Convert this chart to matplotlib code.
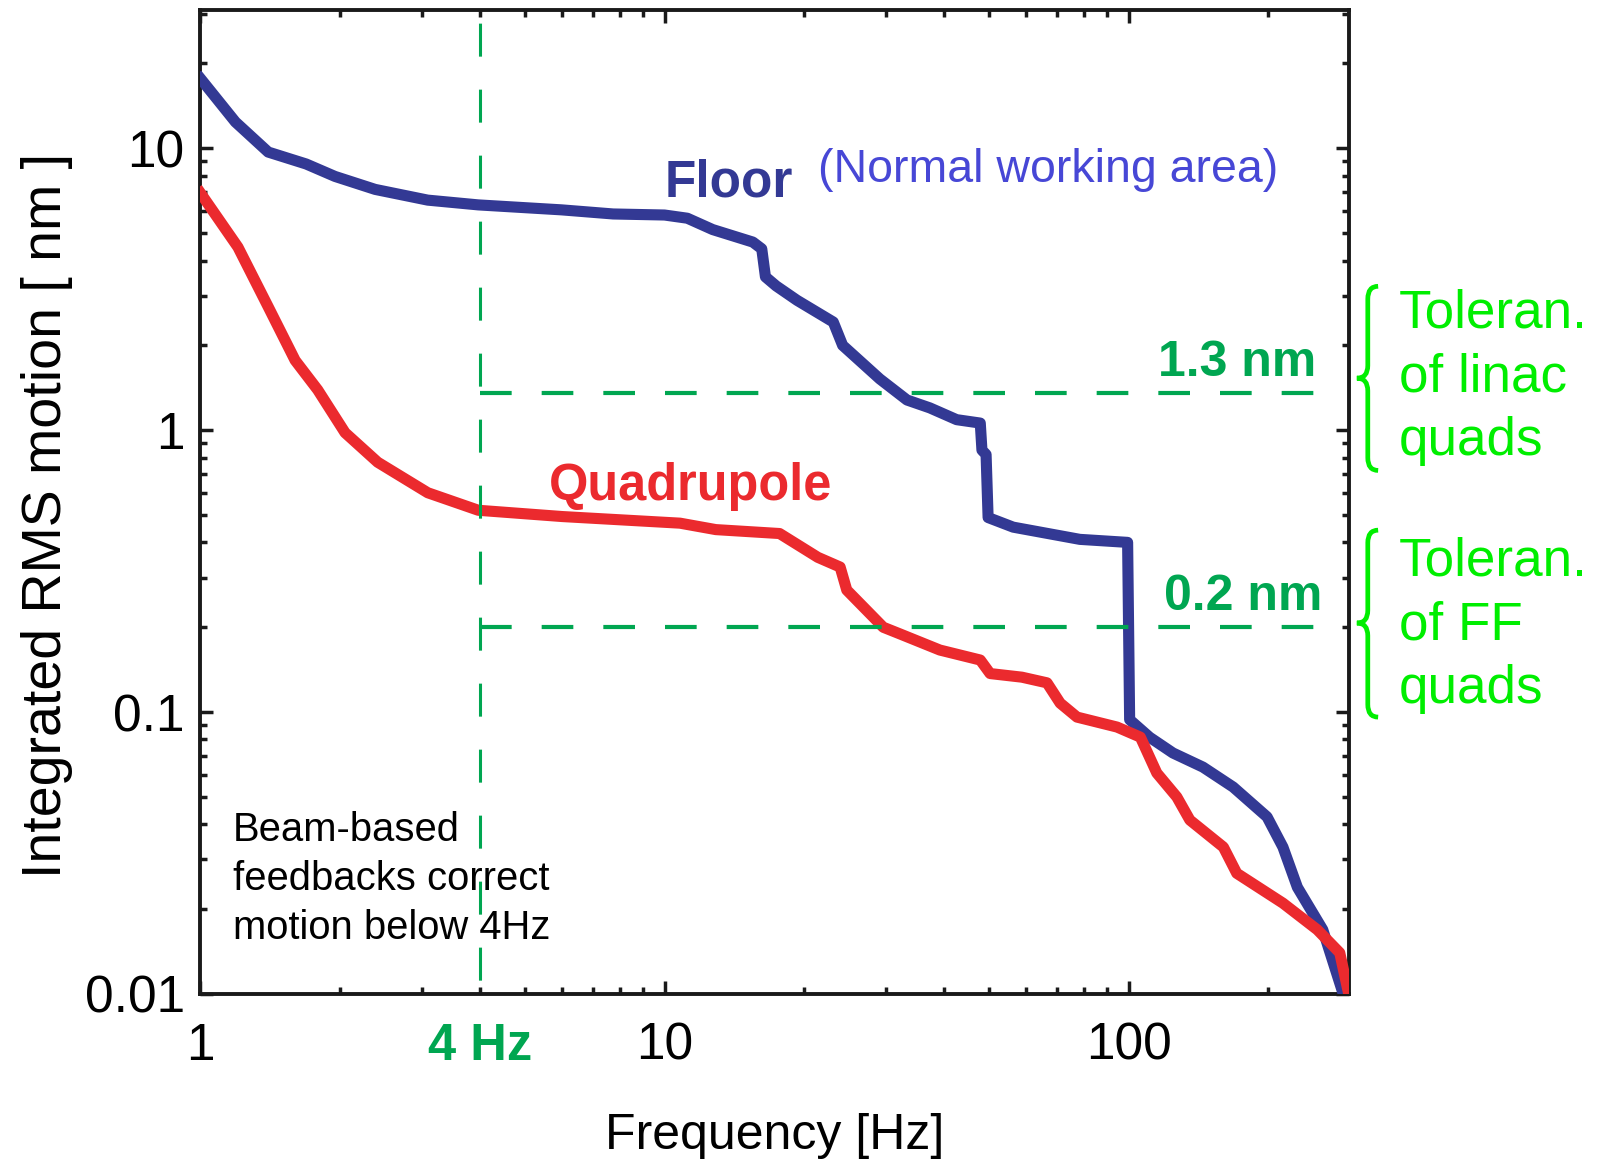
import matplotlib
matplotlib.use('Agg')
import matplotlib.pyplot as plt
import matplotlib.transforms as mtransforms
from matplotlib.path import Path
from matplotlib.patches import PathPatch
import numpy as np

plt.rcParams['font.family'] = ['Liberation Sans', 'DejaVu Sans']

### data

# Floor curve (blue)
floor_freq = [1.0, 1.19, 1.40, 1.69, 1.95, 2.38, 3.09, 3.97, 6.0, 7.75, 10.0,
              11.2, 12.7, 15.5, 16.2, 16.5, 17.4, 19.3, 23.1, 24.2, 29.1, 33.3,
              37.3, 42.6, 47.9, 48.3, 49.3, 49.8, 56.4, 78.5, 99.5, 100.5, 111.0,
              124.6, 144.6, 168.0, 198.7, 215.0, 231.0, 262.0, 290.0]
floor_rms = [17.7, 12.4, 9.7, 8.8, 7.95, 7.15, 6.55, 6.3, 6.05, 5.85, 5.8,
             5.65, 5.15, 4.65, 4.4, 3.5, 3.25, 2.89, 2.42, 2.0, 1.52, 1.28,
             1.2, 1.09, 1.06, 0.85, 0.82, 0.49, 0.453, 0.41, 0.40, 0.094, 0.0814,
             0.0716, 0.0638, 0.0542, 0.0425, 0.0332, 0.0239, 0.0169, 0.0100]

# Quadrupole curve (red)
quad_freq = [1.0, 1.205, 1.40, 1.60, 1.79, 2.05, 2.41, 2.81, 3.09, 3.97, 6.02,
             10.8, 12.9, 17.7, 21.4, 23.9, 24.7, 29.6, 32.0, 39.2, 47.9, 50.3,
             58.9, 66.7, 71.2, 77.4, 94.4, 106.0, 115.0, 127.0, 135.5, 160.0,
             171.0, 215.0, 255.0, 285.0, 298.0]
quad_rms = [6.95, 4.46, 2.74, 1.77, 1.39, 0.98, 0.77, 0.66, 0.60, 0.52, 0.494,
            0.468, 0.444, 0.43, 0.354, 0.327, 0.271, 0.20, 0.19, 0.166, 0.153, 0.137,
            0.133, 0.127, 0.1076, 0.096, 0.0885, 0.0815, 0.0608, 0.050, 0.0414, 0.0332,
            0.0268, 0.021, 0.0169, 0.014, 0.0100]

feedback_freq = 4.0
tol_linac = 1.36
tol_ff = 0.2
tol_end_freq = 252.0

xticks = [1, 4, 10, 100]
xticklabels = ['1', '4 Hz', '10', '100']
yticks = [0.01, 0.1, 1, 10]
yticklabels = ['0.01', '0.1', '1', '10']

# brace extents (top, tip, bottom) in nm
brace_linac = [3.24, 1.53, 0.72]
brace_ff = [0.442, 0.207, 0.096]

### colours
c_floor = '#333994'
c_quad = '#eb2a2e'
c_dash = '#00a651'
c_lime = '#00ee00'
c_note = '#4747d6'

fig = plt.figure(figsize=(16.03, 11.62), dpi=100)
ax = fig.add_axes([0.125, 0.1446, 0.7168, 0.8466])

ax.plot(floor_freq, floor_rms, color=c_floor, lw=8, solid_joinstyle='round', zorder=3)
ax.plot(quad_freq, quad_rms, color=c_quad, lw=8, solid_joinstyle='round', zorder=4)

# feedback limit and tolerance lines
ax.plot([feedback_freq, feedback_freq], [31, 0.01], color=c_dash, lw=2.2,
        linestyle=(17.3, (10.8, 10.8)), zorder=5)
ax.plot([feedback_freq, tol_end_freq], [tol_linac, tol_linac], color=c_dash, lw=3.0,
        linestyle=(0, (7.6, 7.2)), zorder=5)
ax.plot([feedback_freq, tol_end_freq], [tol_ff, tol_ff], color=c_dash, lw=3.0,
        linestyle=(0, (7.6, 7.2)), zorder=5)

ax.set_xscale('log')
ax.set_yscale('log')
ax.set_xlim(1, 299)
ax.set_ylim(0.01, 30.9)

ax.set_xticks(xticks)
ax.set_xticklabels(xticklabels)
ax.set_yticks(yticks)
ax.set_yticklabels(yticklabels)
ax.xaxis.set_minor_formatter(matplotlib.ticker.NullFormatter())
ax.yaxis.set_minor_formatter(matplotlib.ticker.NullFormatter())

ax.tick_params(which='both', direction='in', top=True, right=True, width=2.5, colors='#1a1a1a')
ax.tick_params(which='major', length=9.4, labelsize=37, labelcolor='black')
ax.tick_params(axis='x', which='major', pad=20)
ax.tick_params(axis='y', which='major', pad=11.3)
ax.tick_params(which='minor', length=5)
for t in [ax.xaxis.get_major_ticks()[1]]:
    t.tick1line.set_markersize(5)
    t.tick2line.set_markersize(5)
lab4 = ax.get_xticklabels()[1]
lab4.set_color(c_dash)
lab4.set_fontweight('bold')
lab4.set_fontsize(36.5)
for sp in ax.spines.values():
    sp.set_linewidth(2.8)
    sp.set_color('#1a1a1a')

ax.set_xlabel('Frequency [Hz]', fontsize=36)
ax.xaxis.set_label_coords(0.5, -0.121)
ax.set_ylabel('Integrated RMS motion [ nm ]', fontsize=40)
ax.yaxis.set_label_coords(-0.111, 0.486)

# annotations
ax.text(10.0, 6.77, 'Floor', color=c_floor, fontsize=37, fontweight='bold', va='baseline')
ax.text(21.4, 7.6, '(Normal working area)', color=c_note, fontsize=33.5, va='baseline')
ax.text(5.64, 0.565, 'Quadrupole', color=c_quad, fontsize=36.4, fontweight='bold', va='baseline')
ax.text(254, 1.556, '1.3 nm', color=c_dash, fontsize=36, fontweight='bold', ha='right', va='baseline')
ax.text(261, 0.230, '0.2 nm', color=c_dash, fontsize=36, fontweight='bold', ha='right', va='baseline')
# va='baseline' anchors the last line of a multi-line text
ax.text(1.176, 0.0157, 'Beam-based\nfeedbacks correct\nmotion below 4Hz', fontsize=28.8,
        va='baseline', linespacing=1.355)

trans = mtransforms.blended_transform_factory(ax.transAxes, ax.transData)
ax.text(1.043, 0.816, 'Toleran.\nof linac\nquads', color=c_lime, fontsize=38.2,
        va='baseline', transform=trans, linespacing=1.36, clip_on=False)
ax.text(1.043, 0.1076, 'Toleran.\nof FF\nquads', color=c_lime, fontsize=38.2,
        va='baseline', transform=trans, linespacing=1.36, clip_on=False)


def draw_brace(top, tip, bot):
    """ Curly brace to the right of the axes, y in data units """
    a, t, e = 1.016, 1.0065, 1.025
    yt, ym, yb = np.log10(top), np.log10(tip), np.log10(bot)
    r = 0.045
    verts = [(e, yt), (a, yt), (a, yt - r), (a, ym + r), (a, ym), (t, ym),
             (a, ym), (a, ym - r), (a, yb + r), (a, yb), (e, yb)]
    codes = [Path.MOVETO, Path.CURVE3, Path.CURVE3, Path.LINETO, Path.CURVE3, Path.CURVE3,
             Path.CURVE3, Path.CURVE3, Path.LINETO, Path.CURVE3, Path.CURVE3]
    verts = [(x, 10 ** y) for x, y in verts]
    patch = PathPatch(Path(verts, codes), facecolor='none', edgecolor=c_lime, lw=3.4,
                      transform=trans, clip_on=False)
    ax.add_patch(patch)


draw_brace(*brace_linac)
draw_brace(*brace_ff)

plt.savefig('out.png', dpi=100)
